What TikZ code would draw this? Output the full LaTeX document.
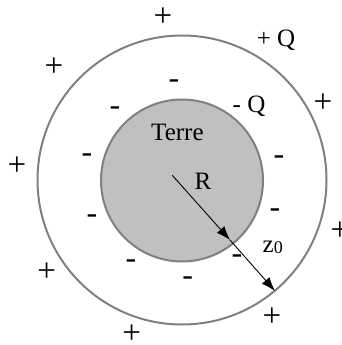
\documentclass[tikz,border=0pt]{standalone}
\usepackage{fontspec}
\setmainfont{Liberation Serif}
\usetikzlibrary{arrows.meta}
\definecolor{shellgray}{RGB}{128,128,128}
\definecolor{earthgray}{RGB}{192,192,192}

\begin{document}
\begin{tikzpicture}[x=1pt, y=-1pt, every node/.style={font=\fontsize{25}{30}\selectfont, inner sep=0pt},
    plussign/.style={font=\fontsize{33}{36}\selectfont},
    minussign/.style={font=\fontsize{32}{36}\selectfont, yshift=-3.2pt},
    txt/.style={anchor=base},
    shell/.style={draw=shellgray, line width=2pt},
    rarrow/.style={line width=0.9pt, -{Latex[length=14pt, width=10pt]}}]

    \useasboundingbox (0,0) rectangle (342,345);

    % Outer shell and Earth
    \draw[shell] (182,180) circle (144.5pt);
    \draw[shell, fill=earthgray] (182,180.5) circle (81pt);

    \node[txt] (terre) at (177.4,140.7) {Terre};
    \node[txt] (chargeout) at (276,46.5) {+ Q};
    \node[txt] (chargein) at (249,112) {- Q};

    % Charges outside the shell
    \node[plussign] (p1) at (163,17) {+};
    \node[plussign] (p2) at (54,66.7) {+};
    \node[plussign] (p3) at (323,102.7) {+};
    \node[plussign] (p4) at (17,166) {+};
    \node[plussign] (p5) at (340,231) {+};
    \node[plussign] (p6) at (46.7,271.7) {+};
    \node[plussign] (p7) at (272,316.7) {+};
    \node[plussign] (p8) at (131.7,334) {+};

    % Charges inside the shell
    \node[minussign] (m1) at (174,81) {-};
    \node[minussign] (m2) at (115,108) {-};
    \node[minussign] (m3) at (87,155) {-};
    \node[minussign] (m4) at (279,156.7) {-};
    \node[minussign] (m5) at (92,216) {-};
    \node[minussign] (m6) at (275,210) {-};
    \node[minussign] (m7) at (131,260.7) {-};
    \node[minussign] (m8) at (237,255.5) {-};
    \node[minussign] (m9) at (187.7,277.7) {-};

    % Radii
    \coordinate (rstart) at (172.3,175.3);
    \coordinate (rmid) at (230,240);
    \coordinate (rend) at (275,291);
    \draw[rarrow] (rstart) -- (rmid);
    \draw[rarrow] (rmid) -- (rend);

    \node[txt] (rlabel) at (203,189) {R};
    \node[txt, anchor=base west] (zlabel) at (262.5,252.7) {z\raisebox{-1pt}{\fontsize{18}{20}\selectfont 0}};

\end{tikzpicture}
\end{document}
